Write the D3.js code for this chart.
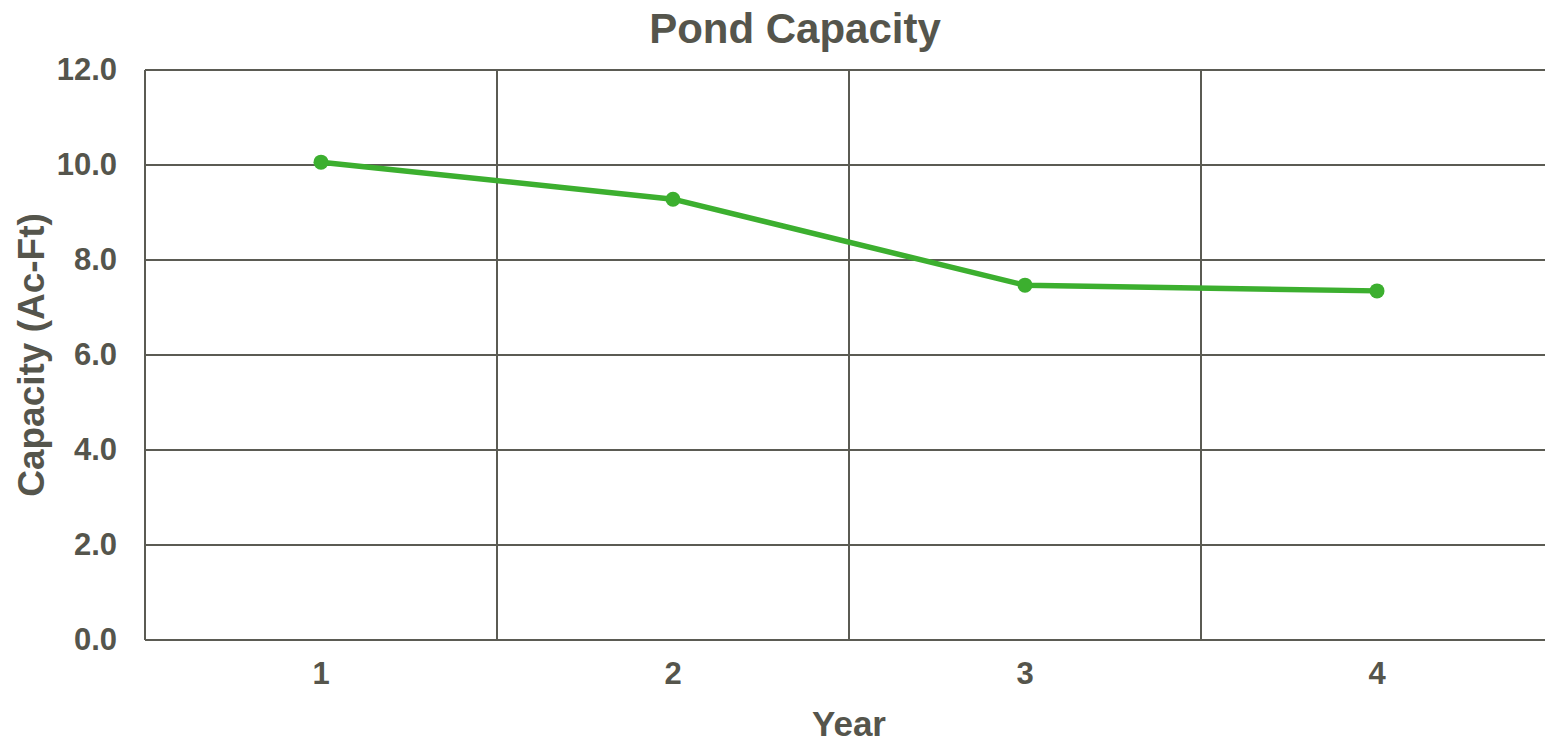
<!DOCTYPE html>
<html>
<head>
<meta charset="utf-8">
<script src="https://cdn.jsdelivr.net/npm/d3@7"></script>
<style>
  html, body { margin: 0; padding: 0; background: #ffffff; }
  svg { display: block; font-family: "Liberation Sans", Arial, sans-serif; font-weight: bold; }
</style>
</head>
<body>
<svg id="chart" width="1545" height="742"></svg>
<script>
// Pond capacity by year (acre-feet)
const years = ["1", "2", "3", "4"];
const capacity = [10.06, 9.28, 7.47, 7.35];
const yTicks = [0, 2, 4, 6, 8, 10, 12];

const width = 1545, height = 742;
const margin = { top: 70, right: -8, bottom: 102, left: 145 };
const innerW = width - margin.left - margin.right;
const innerH = height - margin.top - margin.bottom;

const ink = "#55554c";
const gridColor = "#5b5b53";
const green = "#3caf2f";

const svg = d3.select("#chart");
const g = svg.append("g").attr("transform", `translate(${margin.left},${margin.top})`);

const x = d3.scaleBand().domain(years).range([0, innerW]).padding(0);
const y = d3.scaleLinear().domain([0, 12]).range([innerH, 0]);

// horizontal gridlines
g.append("g")
  .selectAll("line")
  .data(yTicks)
  .join("line")
  .attr("x1", 0).attr("x2", innerW)
  .attr("y1", d => y(d)).attr("y2", d => y(d))
  .attr("stroke", gridColor).attr("stroke-width", 2);

// vertical gridlines at category boundaries
g.append("g")
  .selectAll("line")
  .data(years.slice(1).concat(["end"]))
  .join("line")
  .attr("x1", (d, i) => x(years[0]) + x.step() * (i + 1))
  .attr("x2", (d, i) => x(years[0]) + x.step() * (i + 1))
  .attr("y1", 0).attr("y2", innerH)
  .attr("stroke", gridColor).attr("stroke-width", 2);

// left axis line
g.append("line")
  .attr("x1", 0).attr("x2", 0).attr("y1", 0).attr("y2", innerH)
  .attr("stroke", gridColor).attr("stroke-width", 2);

// y axis labels
const yAxis = d3.axisLeft(y).tickValues(yTicks).tickFormat(d3.format(".1f")).tickSize(0).tickPadding(28);
const yg = g.append("g").call(yAxis);
yg.select(".domain").remove();
yg.selectAll("text")
  .attr("fill", ink).attr("font-size", 31).attr("font-weight", "bold")
  .attr("font-family", "'Liberation Sans', Arial, sans-serif");

// x axis labels
const xAxis = d3.axisBottom(x).tickSize(0).tickPadding(22);
const xg = g.append("g").attr("transform", `translate(0,${innerH})`).call(xAxis);
xg.select(".domain").remove();
xg.selectAll("text")
  .attr("fill", ink).attr("font-size", 31).attr("font-weight", "bold")
  .attr("font-family", "'Liberation Sans', Arial, sans-serif");

// series line
const pts = years.map((yr, i) => ({ yr, v: capacity[i] }));
const line = d3.line().x(d => x(d.yr) + x.bandwidth() / 2).y(d => y(d.v));
g.append("path")
  .datum(pts)
  .attr("d", line)
  .attr("fill", "none")
  .attr("stroke", green)
  .attr("stroke-width", 5.5)
  .attr("stroke-linejoin", "round");

g.append("g")
  .selectAll("circle")
  .data(pts)
  .join("circle")
  .attr("cx", d => x(d.yr) + x.bandwidth() / 2)
  .attr("cy", d => y(d.v))
  .attr("r", 7.5)
  .attr("fill", green);

// titles
svg.append("text")
  .attr("x", 795).attr("y", 43)
  .attr("text-anchor", "middle")
  .attr("fill", ink).attr("font-size", 42)
  .text("Pond Capacity");

svg.append("text")
  .attr("x", 849).attr("y", 736)
  .attr("text-anchor", "middle")
  .attr("fill", ink).attr("font-size", 35)
  .text("Year");

svg.append("text")
  .attr("transform", `translate(44,${margin.top + innerH / 2}) rotate(-90)`)
  .attr("text-anchor", "middle")
  .attr("fill", ink).attr("font-size", 37)
  .text("Capacity (Ac-Ft)");
</script>
</body>
</html>
